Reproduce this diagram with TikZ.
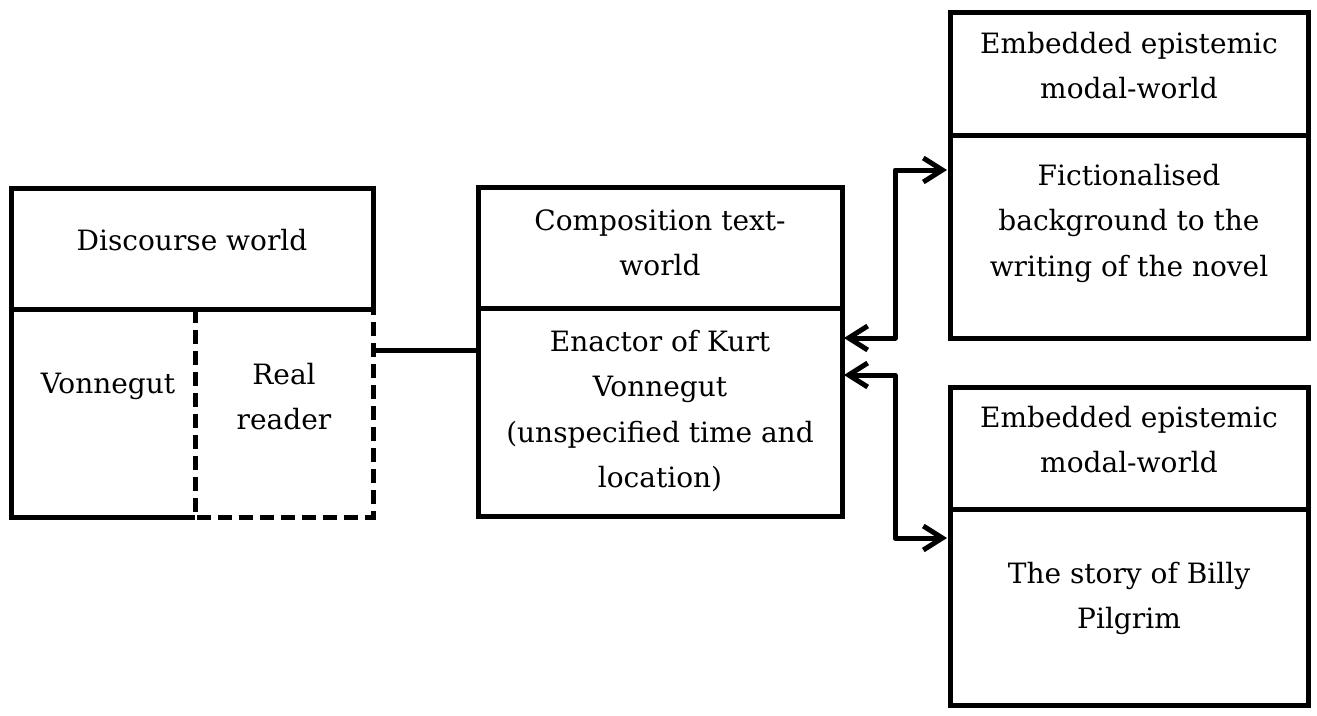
\documentclass[tikz,border=0pt]{standalone}
\usepackage{fontspec}
\setmainfont{DejaVu Serif}
\usetikzlibrary{arrows.meta}
\newcommand{\mlines}[1]{\begin{tabular}[t]{@{}c@{}}#1\end{tabular}}
\begin{document}
\begin{tikzpicture}[x=1pt,y=-1pt,
  part/.style={rectangle, inner sep=0pt, outer sep=0pt, line width=5pt},
  drawn/.style={part, draw},
  txt/.style={anchor=base, inner sep=0pt, font=\fontsize{28}{45.5}\selectfont},
  conn/.style={line width=5pt},
  arr/.style={line width=5pt, line join=round, {Straight Barb[length=19pt,width=24pt]}-{Straight Barb[length=19pt,width=24pt]}},
  dashbox/.style={line width=5pt, dash pattern=on 14pt off 7pt}
]
\useasboundingbox (0,0) rectangle (1317,715);

% Discourse world
\node[drawn, minimum width=362pt, minimum height=121pt] (dwhead) at (192,248.5) {};
\node[part, minimum width=362pt, minimum height=208pt] (dwlow) at (192,413) {};
\node[part, minimum width=178pt, minimum height=208pt] (rr) at (284,413) {};
\draw[conn] (dwlow.north west) -- (dwlow.south west) -- (rr.south west);
\draw[dashbox] (rr.north west) -- (rr.south west) -- (rr.south east) -- (rr.north east);

% Composition text-world
\node[drawn, minimum width=364pt, minimum height=121pt] (midhead) at (660,247.5) {};
\node[drawn, minimum width=364pt, minimum height=208pt] (midlow) at (660,412) {};

% Embedded worlds
\node[drawn, minimum width=358pt, minimum height=123pt] (fhead) at (1129,73.5) {};
\node[drawn, minimum width=358pt, minimum height=203pt] (fbody) at (1129,236.5) {};
\node[drawn, minimum width=358pt, minimum height=122pt] (bhead) at (1129,448) {};
\node[drawn, minimum width=358pt, minimum height=196pt] (bbody) at (1129,607) {};

% Texts
\node[txt] (t1) at (192,250) {Discourse world};
\node[txt] (t2) at (108,393) {Vonnegut};
\node[txt] (t3) at (284,384) {\mlines{Real\\reader}};
\node[txt] (t4) at (660,230) {\mlines{Composition text-\\world}};
\node[txt] (t5) at (660,351) {\mlines{Enactor of Kurt\\Vonnegut\\(unspecified time and\\location)}};
\node[txt] (t6) at (1129,53) {\mlines{Embedded epistemic\\modal-world}};
\node[txt] (t7) at (1129,185) {\mlines{Fictionalised\\background to the\\writing of the novel}};
\node[txt] (t8) at (1129,427) {\mlines{Embedded epistemic\\modal-world}};
\node[txt] (t9) at (1129,583) {\mlines{The story of Billy\\Pilgrim}};

% Connectors
\coordinate (c0) at ([yshift=63pt]rr.east);
\draw[conn] (c0) -- (c0 -| midlow.west);
\draw[arr] ([yshift=74pt,xshift=2pt]midlow.east) -- ++(51,0) |- ([yshift=66.5pt,xshift=-3pt]fbody.west);
\draw[arr] ([yshift=37pt,xshift=2pt]midlow.east) -- ++(51,0) |- ([yshift=69pt,xshift=-3pt]bbody.west);
\end{tikzpicture}
\end{document}
